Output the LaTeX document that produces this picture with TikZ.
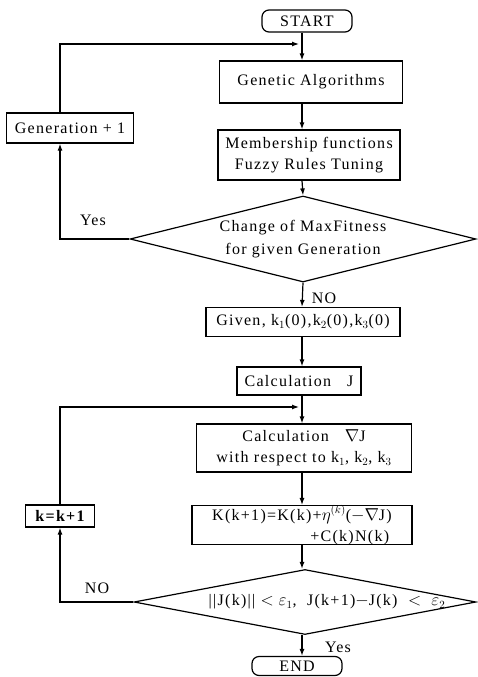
\documentclass[tikz,border=0pt]{standalone}
\usepackage{amsmath}
\usepackage{fontspec}
\setmainfont[LetterSpace=8]{Liberation Serif}
\usetikzlibrary{shapes.geometric,arrows.meta}
\tikzset{
  proc/.style={draw,line width=1.2pt,inner sep=0pt,align=center},
  term/.style={draw,line width=1.2pt,rounded corners=7pt,inner sep=0pt},
  decide/.style={draw,line width=1.2pt,diamond,inner sep=0pt},
  flow/.style={line width=1.2pt,-{Latex[length=7pt,width=5pt]}},
  line/.style={line width=1.2pt}
}
\begin{document}
\begin{tikzpicture}[x=1pt,y=-1pt,font=\fontsize{16}{21}\selectfont]
            \useasboundingbox (0,0) rectangle (477,677);
            % axes of the two columns
            \coordinate (ax) at (302,0);
            \coordinate (lx) at (60,0);
            \node[term,minimum width=90,minimum height=22] (start) at (307,21) {START};
            \node[proc,minimum width=183,minimum height=42] (ga) at (311,82) {Genetic Algorithms};
            \node[proc,minimum width=182,minimum height=50] (mf) at (309,155) {Membership functions\\Fuzzy Rules Tuning};
            \node[proc,minimum width=127,minimum height=30] (gen) at (70,128) {Generation + 1};
            \node[decide,minimum width=346,minimum height=86,
                  label={center:\begin{tabular}{c}Change of MaxFitness\\[2pt]for given Generation\end{tabular}}] (dfit) at (303,239) {};
            \node[proc,minimum width=194,minimum height=29] (given) at (303,322) {Given, k$_1$(0),k$_2$(0),k$_3$(0)};
            \node[proc,minimum width=124,minimum height=28] (cj) at (299,381) {Calculation\quad J};
            \node[proc,minimum width=215,minimum height=48] (cgj) at (304,448) {Calculation\quad $\nabla$J\\with respect to k$_1$, k$_2$, k$_3$};
            \node[proc,minimum width=69,minimum height=22] (kinc) at (60,516) {\bfseries k=k+1};
            \node[proc,minimum width=220,minimum height=36,align=right] (kupd) at (302,525)
                {K(k+1)=K(k)+$\eta^{(k)}$($-\nabla$J)\hspace{16pt}\\+C(k)N(k)\,};
            \node[decide,minimum width=342,minimum height=65,
                  label={[xshift=22pt]center:||J(k)|| $<\varepsilon_1$, \ J(k+1)$-$J(k) \ $<\ \varepsilon_2$}] (dstop) at (305,602) {};
            \node[term,minimum width=90,minimum height=19] (end) at (297,666) {END};
            % main column
            \draw[flow] (start.south -| ax) -- (ga.north -| ax);
            \draw[flow] (ga.south -| ax) -- (mf.north -| ax);
            \draw[flow] (mf.south -| ax) -- (dfit.north);
            \draw[flow] (dfit.south) -- (given.north -| ax);
            \draw[flow] (given.south -| ax) -- (cj.north -| ax);
            \draw[flow] (cj.south -| ax) -- (cgj.north -| ax);
            \draw[flow] (cgj.south -| ax) -- (kupd.north -| ax);
            \draw[flow] (kupd.south -| ax) -- (dstop.north -| ax);
            \draw[flow] (dstop.south -| ax) -- (end.north -| ax);
            % generation loop
            \draw[flow] (dfit.west) -| (gen.south -| lx);
            \draw[flow] (gen.north -| lx) |- (299,44);
            % gradient loop
            \draw[flow] (dstop.west) -| (kinc.south);
            \draw[flow] (kinc.north) |- (299,407);
            \node (yes1) at (93,220) {Yes};
            \node (no1) at (324,298) {NO};
            \node (no2) at (97,588) {NO};
            \node (yes2) at (338,647) {Yes};
\end{tikzpicture}
\end{document}
